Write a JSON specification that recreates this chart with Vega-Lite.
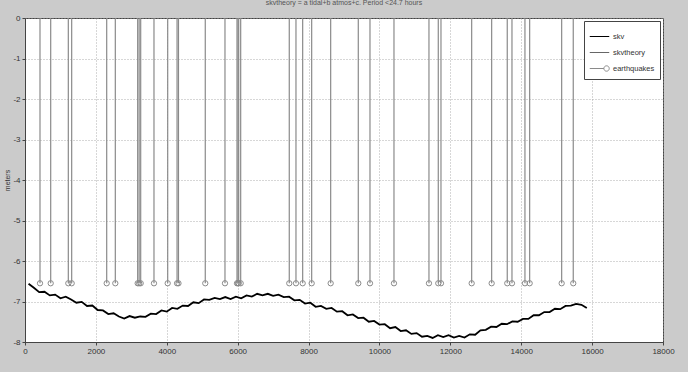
{
  "$schema": "https://vega.github.io/schema/vega-lite/v6.json",
  "autosize": "none",
  "width": 638,
  "height": 324,
  "padding": {"left": 25, "top": 18, "right": 25, "bottom": 30},
  "background": "#cbcbcb",
  "title": {"text": "skvtheory = a tidal+b atmos+c.  Period <24.7 hours", "fontSize": 7, "font": "Liberation Sans", "fontWeight": "normal", "color": "#555", "offset": 8, "anchor": "middle"},
  "config": {
    "view": {"fill": "white", "stroke": "#444", "strokeWidth": 1},
    "axis": {"labelFont": "Liberation Sans", "labelFontSize": 8, "labelColor": "#333", "titleFont": "Liberation Sans", "titleFontSize": 7, "titleFontWeight": "normal", "titleColor": "#333", "gridColor": "#999", "gridDash": [1, 2], "gridOpacity": 1, "gridWidth": 0.8, "domainColor": "#444", "tickColor": "#444", "tickSize": 3},
    "legend": {"labelFont": "Liberation Sans", "labelFontSize": 7.5, "labelColor": "#333"}
  },
  "datasets": {
    "skv": [
      {"t": 100, "v": -6.56}, {"t": 250, "v": -6.66}, {"t": 400, "v": -6.77}, {"t": 550, "v": -6.76}, {"t": 700, "v": -6.85}, {"t": 850, "v": -6.83}, {"t": 1000, "v": -6.92}, {"t": 1150, "v": -6.88}, {"t": 1300, "v": -6.95}, {"t": 1450, "v": -7.03}, {"t": 1600, "v": -7.01}, {"t": 1750, "v": -7.11}, {"t": 1900, "v": -7.1}, {"t": 2050, "v": -7.21}, {"t": 2200, "v": -7.22}, {"t": 2350, "v": -7.31}, {"t": 2500, "v": -7.29}, {"t": 2650, "v": -7.37}, {"t": 2800, "v": -7.42}, {"t": 2950, "v": -7.36}, {"t": 3100, "v": -7.4}, {"t": 3250, "v": -7.37}, {"t": 3400, "v": -7.38}, {"t": 3550, "v": -7.3}, {"t": 3700, "v": -7.31}, {"t": 3850, "v": -7.22}, {"t": 4000, "v": -7.25}, {"t": 4150, "v": -7.16}, {"t": 4300, "v": -7.18}, {"t": 4450, "v": -7.1}, {"t": 4600, "v": -7.11}, {"t": 4750, "v": -7.02}, {"t": 4900, "v": -7.04}, {"t": 5050, "v": -6.95}, {"t": 5200, "v": -6.96}, {"t": 5350, "v": -6.91}, {"t": 5500, "v": -6.94}, {"t": 5650, "v": -6.89}, {"t": 5800, "v": -6.94}, {"t": 5950, "v": -6.88}, {"t": 6100, "v": -6.92}, {"t": 6250, "v": -6.85}, {"t": 6400, "v": -6.88}, {"t": 6550, "v": -6.81}, {"t": 6700, "v": -6.85}, {"t": 6850, "v": -6.81}, {"t": 7000, "v": -6.86}, {"t": 7150, "v": -6.83}, {"t": 7300, "v": -6.89}, {"t": 7450, "v": -6.88}, {"t": 7600, "v": -6.97}, {"t": 7750, "v": -6.96}, {"t": 7900, "v": -7.05}, {"t": 8050, "v": -7.03}, {"t": 8200, "v": -7.13}, {"t": 8350, "v": -7.11}, {"t": 8500, "v": -7.18}, {"t": 8650, "v": -7.16}, {"t": 8800, "v": -7.25}, {"t": 8950, "v": -7.24}, {"t": 9100, "v": -7.34}, {"t": 9250, "v": -7.32}, {"t": 9400, "v": -7.41}, {"t": 9550, "v": -7.4}, {"t": 9700, "v": -7.5}, {"t": 9850, "v": -7.48}, {"t": 10000, "v": -7.57}, {"t": 10150, "v": -7.56}, {"t": 10300, "v": -7.66}, {"t": 10450, "v": -7.63}, {"t": 10600, "v": -7.73}, {"t": 10750, "v": -7.71}, {"t": 10900, "v": -7.8}, {"t": 11050, "v": -7.78}, {"t": 11200, "v": -7.87}, {"t": 11350, "v": -7.85}, {"t": 11500, "v": -7.9}, {"t": 11650, "v": -7.83}, {"t": 11800, "v": -7.88}, {"t": 11950, "v": -7.83}, {"t": 12100, "v": -7.89}, {"t": 12250, "v": -7.85}, {"t": 12400, "v": -7.89}, {"t": 12550, "v": -7.81}, {"t": 12700, "v": -7.82}, {"t": 12850, "v": -7.71}, {"t": 13000, "v": -7.7}, {"t": 13150, "v": -7.62}, {"t": 13300, "v": -7.63}, {"t": 13450, "v": -7.55}, {"t": 13600, "v": -7.56}, {"t": 13750, "v": -7.49}, {"t": 13900, "v": -7.5}, {"t": 14050, "v": -7.43}, {"t": 14200, "v": -7.43}, {"t": 14350, "v": -7.34}, {"t": 14500, "v": -7.34}, {"t": 14650, "v": -7.26}, {"t": 14800, "v": -7.26}, {"t": 14950, "v": -7.18}, {"t": 15100, "v": -7.19}, {"t": 15250, "v": -7.11}, {"t": 15400, "v": -7.1}, {"t": 15550, "v": -7.06}, {"t": 15700, "v": -7.08}, {"t": 15850, "v": -7.16}
    ],
    "quakes": [
      {"t": 423, "v": -6.55}, {"t": 725, "v": -6.55}, {"t": 1222, "v": -6.55}, {"t": 1317, "v": -6.55}, {"t": 2305, "v": -6.55}, {"t": 2548, "v": -6.55}, {"t": 3179, "v": -6.55}, {"t": 3220, "v": -6.55}, {"t": 3264, "v": -6.55}, {"t": 3639, "v": -6.55}, {"t": 4026, "v": -6.55}, {"t": 4290, "v": -6.55}, {"t": 4330, "v": -6.55}, {"t": 5086, "v": -6.55}, {"t": 5642, "v": -6.55}, {"t": 5981, "v": -6.55}, {"t": 6010, "v": -6.55}, {"t": 6029, "v": -6.55}, {"t": 6085, "v": -6.55}, {"t": 7456, "v": -6.55}, {"t": 7645, "v": -6.55}, {"t": 7834, "v": -6.55}, {"t": 8088, "v": -6.55}, {"t": 8624, "v": -6.55}, {"t": 9403, "v": -6.55}, {"t": 9733, "v": -6.55}, {"t": 10410, "v": -6.55}, {"t": 11397, "v": -6.55}, {"t": 11660, "v": -6.55}, {"t": 11736, "v": -6.55}, {"t": 12602, "v": -6.55}, {"t": 13166, "v": -6.55}, {"t": 13606, "v": -6.55}, {"t": 13739, "v": -6.55}, {"t": 14105, "v": -6.55}, {"t": 14238, "v": -6.55}, {"t": 15141, "v": -6.55}, {"t": 15468, "v": -6.55}
    ]
  },
  "encoding": {
    "x": {"field": "t", "type": "quantitative", "scale": {"domain": [0, 18000], "nice": false, "zero": false}, "axis": {"values": [0, 2000, 4000, 6000, 8000, 10000, 12000, 14000, 16000, 18000], "title": null, "labelFlush": false, "labelPadding": 2, "format": "d"}},
    "y": {"field": "v", "type": "quantitative", "scale": {"domain": [-8, 0], "nice": false, "zero": false}, "axis": {"values": [-8, -7, -6, -5, -4, -3, -2, -1, 0], "title": "meters", "titlePadding": 2, "labelPadding": 2, "labelFlush": false, "labelExpr": "'' + datum.value"}}
  },
  "layer": [
    {
      "data": {"name": "quakes"},
      "mark": {"type": "rule", "color": "#8a8a8a", "strokeWidth": 1.2},
      "encoding": {"y": {"datum": 0}, "y2": {"field": "v"}}
    },
    {
      "data": {"name": "skv"},
      "transform": [{"calculate": "'skv'", "as": "series"}],
      "mark": {"type": "line", "strokeWidth": 1.8, "interpolate": "linear"},
      "encoding": {
        "color": {"field": "series", "type": "nominal", "scale": {"domain": ["skv", "skvtheory", "earthquakes"], "range": ["#000000", "#666666", "#8a8a8a"]}, "legend": {"title": null, "orient": "top-right", "offset": 3, "strokeColor": "#444", "fillColor": "white", "padding": 5, "symbolSize": 380, "rowPadding": 2, "labelOffset": 3, "symbolType": "M-1,0H1", "symbolStrokeColor": "#777", "symbolStrokeWidth": 1, "encode": {"symbols": {"update": {"shape": {"signal": "datum.value === 'earthquakes' ? 'M-1,0H0.45M1,0A0.275,0.275 0 1 1 0.45,0A0.275,0.275 0 1 1 1,0' : 'M-1,0H1'"}, "stroke": {"value": "#777"}, "fill": {"value": "transparent"}}}}}}
      }
    },
    {
      "data": {"name": "quakes"},
      "transform": [{"calculate": "'earthquakes'", "as": "series"}],
      "mark": {"type": "point", "shape": "circle", "filled": false, "size": 28, "strokeWidth": 1, "opacity": 1},
      "encoding": {
        "color": {"field": "series", "type": "nominal", "legend": {"title": null, "orient": "top-right", "offset": 3, "strokeColor": "#444", "fillColor": "white", "padding": 5, "symbolSize": 380, "rowPadding": 2, "labelOffset": 3, "symbolType": "M-1,0H1", "symbolStrokeColor": "#777", "symbolStrokeWidth": 1, "encode": {"symbols": {"update": {"shape": {"signal": "datum.value === 'earthquakes' ? 'M-1,0H0.45M1,0A0.275,0.275 0 1 1 0.45,0A0.275,0.275 0 1 1 1,0' : 'M-1,0H1'"}, "stroke": {"value": "#777"}, "fill": {"value": "transparent"}}}}}}
      }
    }
  ]
}
